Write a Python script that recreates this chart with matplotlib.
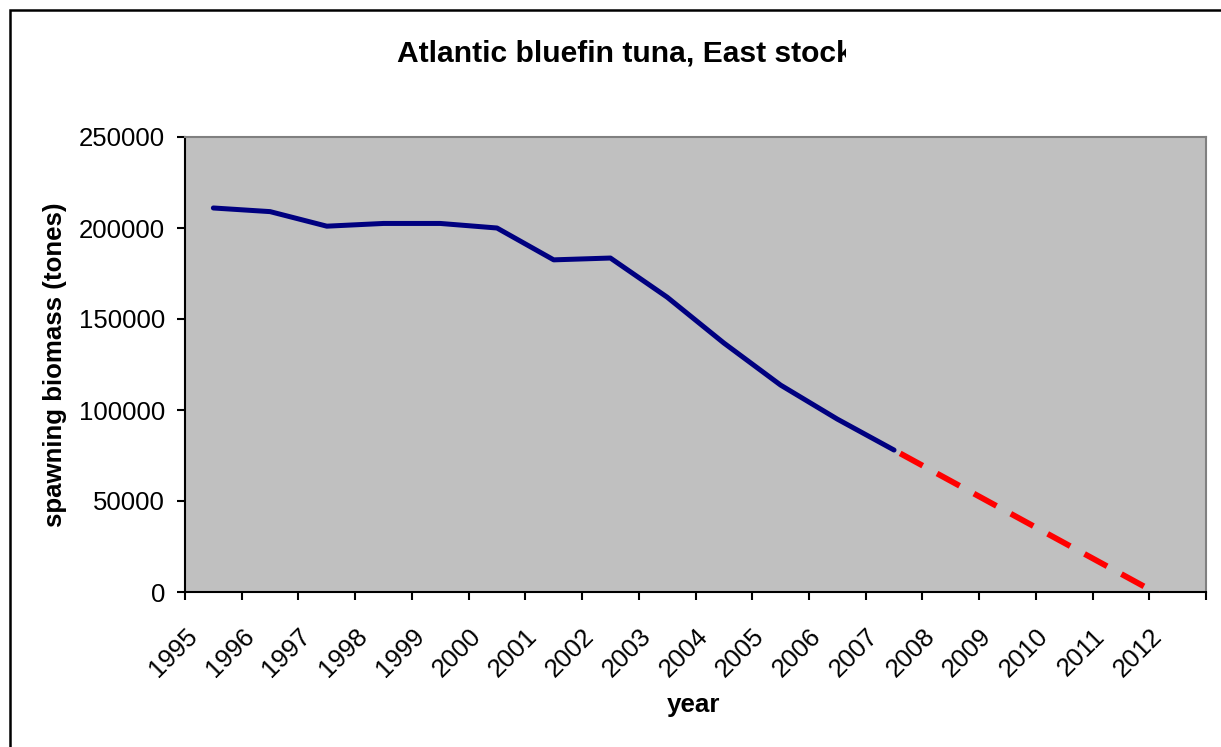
import matplotlib
matplotlib.use('Agg')
import matplotlib.pyplot as plt
from matplotlib.patches import Rectangle
from matplotlib.transforms import Bbox, TransformedBbox

# data
years = ['1995', '1996', '1997', '1998', '1999', '2000', '2001', '2002', '2003',
         '2004', '2005', '2006', '2007', '2008', '2009', '2010', '2011', '2012']
biomass = [211000, 209000, 201000, 202500, 202500, 200000, 182500, 183500,
           162000, 136800, 113700, 95000, 78000]
# projection 2007 -> 2012 (goes below zero, clipped by the axis)
proj_years = ['2007', '2008', '2009', '2010', '2011', '2012']
projection = [78000, 61000, 44000, 27000, 10000, -7000]
yticks = [0, 50000, 100000, 150000, 200000, 250000]

plt.rcParams['font.family'] = ['Liberation Sans', 'DejaVu Sans']

W, H = 1221, 747
fig = plt.figure(figsize=(W / 100, H / 100), dpi=100)
ax = fig.add_axes([185 / W, 1 - 592 / H, (1206 - 185) / W, 455 / H])
ax.set_facecolor('#c0c0c0')

x_hist = [years.index(y) for y in years[:len(biomass)]]
x_proj = [years.index(y) for y in proj_years]
ax.plot(x_hist, biomass, color='#000080', lw=3.6,
        solid_capstyle='round', solid_joinstyle='round', zorder=3)
ax.plot(x_proj, projection, color='#ff0000', lw=4.2,
        linestyle=(6.0, (4.4, 2.8)), dash_capstyle='butt', zorder=3)

ax.set_xlim(-0.5, len(years) - 0.5)
ax.set_ylim(0, 250000)

# ticks on category boundaries, labels on separate minor ticks
ax.set_xticks([i - 0.5 for i in range(len(years) + 1)])
ax.set_xticklabels([])
ax.set_xticks([i - 0.2 for i in range(len(years))], years, minor=True,
              rotation=45, ha='right', va='top')
ax.tick_params(axis='x', which='major', direction='out', length=5.8, width=1.5)
ax.tick_params(axis='x', which='minor', length=0, pad=23, labelsize=18.5)

ax.set_yticks(yticks, [str(v) for v in yticks])
ax.tick_params(axis='y', direction='out', length=5.8, width=1.5, pad=8.6,
               labelsize=18.5)

for s in ['left', 'bottom']:
    ax.spines[s].set_color('black')
    ax.spines[s].set_linewidth(1.5)
for s in ['top', 'right']:
    ax.spines[s].set_color('#808080')
    ax.spines[s].set_linewidth(1.5)

ax.set_ylabel('spawning biomass (tones)', fontsize=18.6, fontweight='bold')
ax.yaxis.set_label_coords((67 - 185) / 1021, 0.5)
ax.set_xlabel('year', fontsize=18.7, fontweight='bold', va='baseline')
ax.xaxis.set_label_coords((694 - 185) / 1021, (592 - 712) / 455)

# title, clipped on the right like in the original
title = fig.text(624.5 / W, 1 - 61 / H, 'Atlantic bluefin tuna, East stock',
                 ha='center', va='baseline', fontsize=21.6, fontweight='bold')
title.set_clip_box(TransformedBbox(Bbox([[0, 0], [846 / W, 1]]), fig.transFigure))

# outer chart frame (only left and top edges show)
fig.patches.append(Rectangle((9.5 / W, -0.1), 1.2, 1.1 - 10 / H,
                             transform=fig.transFigure, fill=False,
                             ec='black', lw=1.8))

fig.savefig('out.png', dpi=100)
